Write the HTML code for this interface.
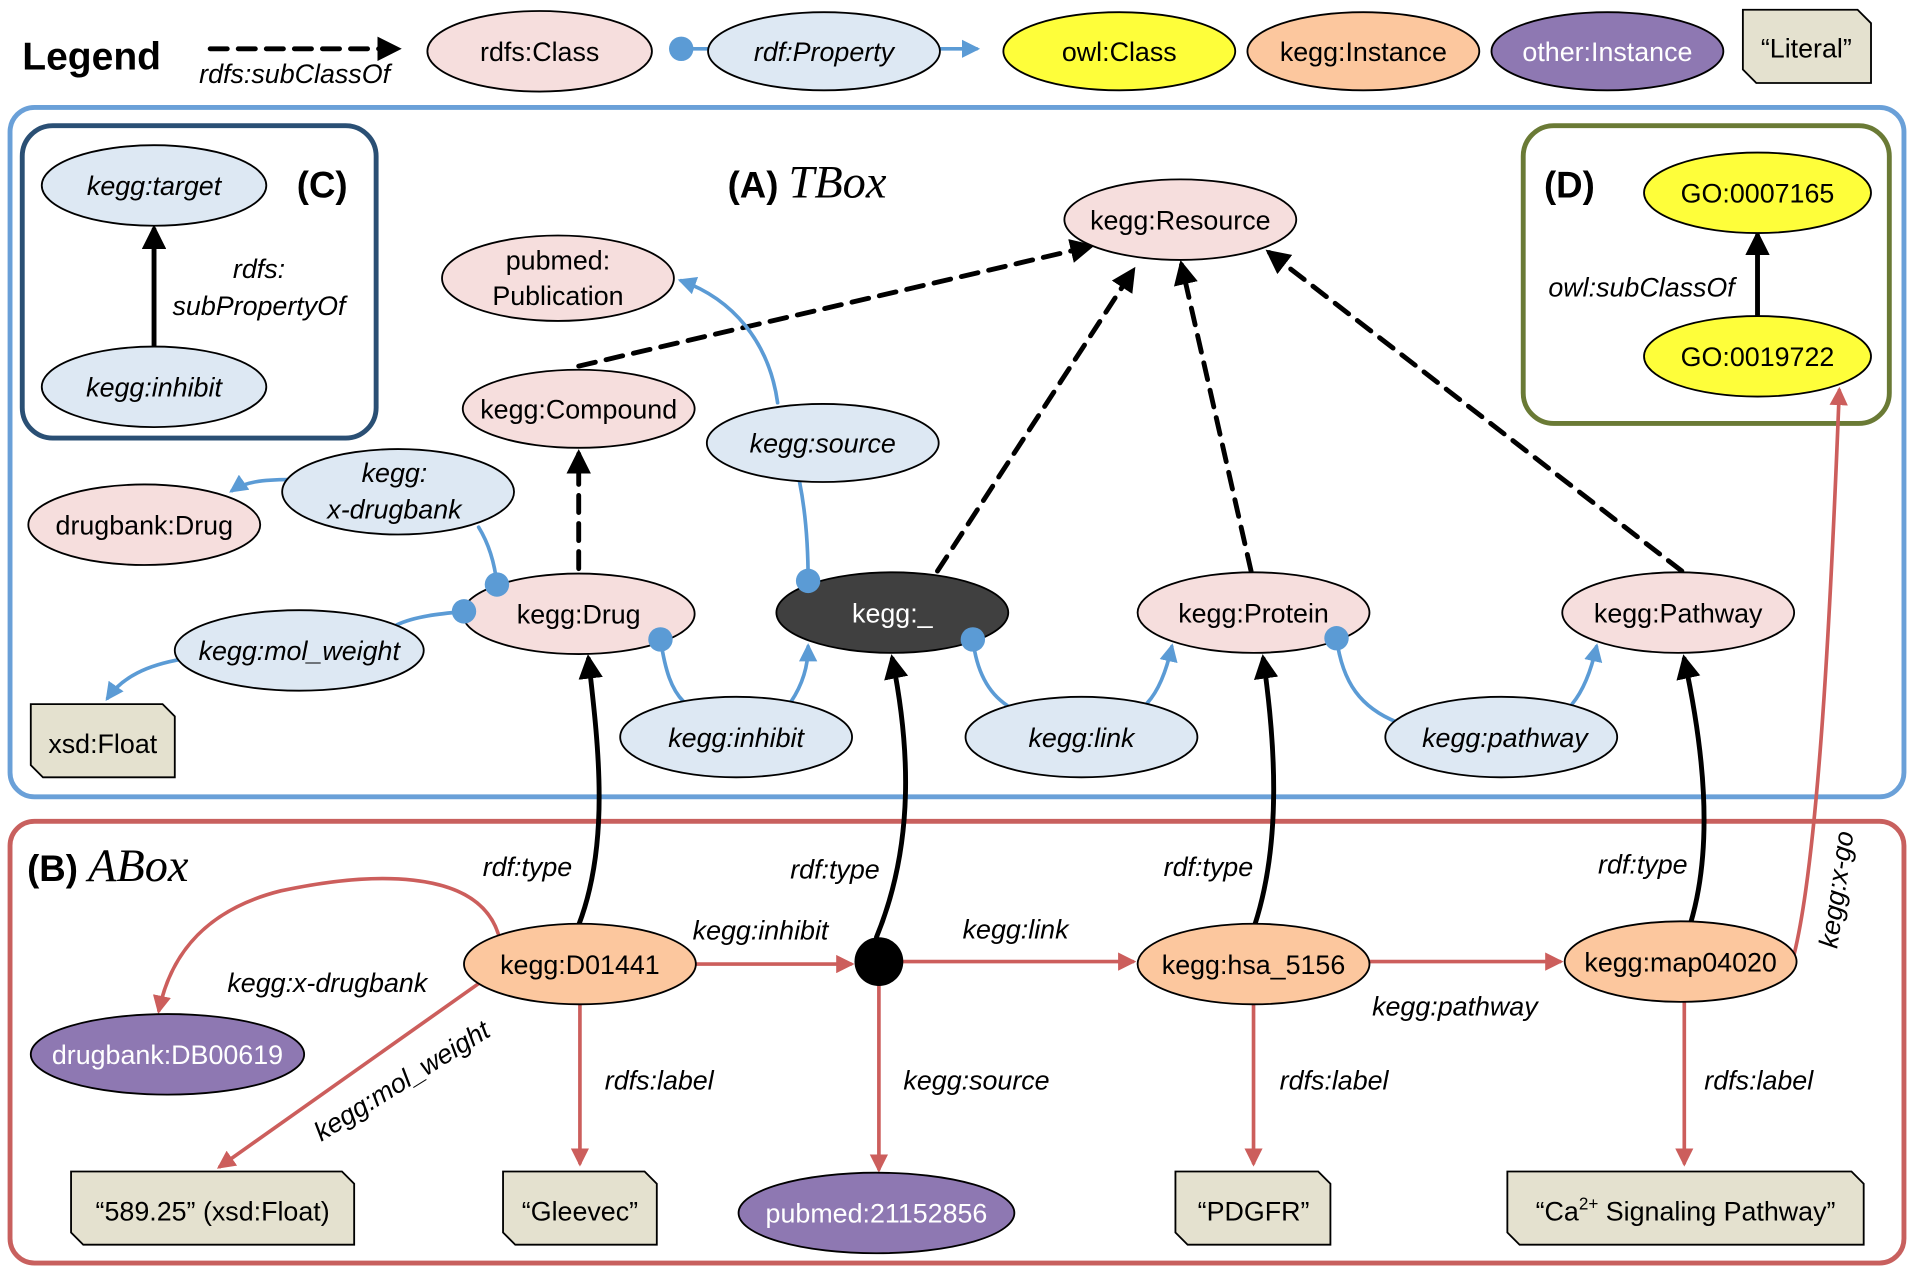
<!DOCTYPE html>
<html><head><meta charset="utf-8">
<style>
html,body{margin:0;padding:0;background:#fff;}
svg{display:block;}
text{font-family:"Liberation Sans","DejaVu Sans",sans-serif;font-size:22px;fill:#000;}
.it{font-style:italic;}
.b{font-weight:bold;}
.w{fill:#fff;}
</style></head><body>
<svg width="1914" height="1274" viewBox="0 0 1568 1044" xmlns="http://www.w3.org/2000/svg">
<defs>
<marker id="ak" viewBox="0 0 10 10" refX="8" refY="5" markerWidth="5" markerHeight="5" orient="auto"><path d="M0,0L10,5L0,10z" fill="#000"/></marker>
<marker id="ab" viewBox="0 0 10 10" refX="8" refY="5" markerWidth="5" markerHeight="5" orient="auto"><path d="M0,0L10,5L0,10z" fill="#5b9bd5"/></marker>
<marker id="ar" viewBox="0 0 10 10" refX="8" refY="5" markerWidth="5" markerHeight="5" orient="auto"><path d="M0,0L10,5L0,10z" fill="#cc5e5c"/></marker>
</defs>
<g stroke-linecap="round">
<rect x="8" y="88" width="1552" height="565" rx="20" fill="none" stroke="#6aa0d8" stroke-width="4"/>
<rect x="8" y="673" width="1552" height="362" rx="20" fill="none" stroke="#c8605e" stroke-width="4"/>
<rect x="18" y="103" width="290" height="256" rx="25" fill="none" stroke="#2a4f74" stroke-width="4"/>
<rect x="1248" y="103" width="300" height="244" rx="25" fill="none" stroke="#6a7a35" stroke-width="4"/>

<text x="18" y="57" class="b" style="font-size:32px">Legend</text>
<line x1="172" y1="40" x2="325" y2="40" stroke="#000" stroke-width="4" stroke-dasharray="14,9" marker-end="url(#ak)"/>
<text x="163" y="68" class="it">rdfs:subClassOf</text>
<line x1="558" y1="40" x2="582" y2="40" stroke="#5b9bd5" stroke-width="3"/>
<line x1="770" y1="40" x2="800" y2="40" stroke="#5b9bd5" stroke-width="3" marker-end="url(#ab)"/>
</g>

<g stroke="#000" stroke-width="1.5">
<ellipse cx="442" cy="42" rx="92" ry="33" fill="#f6dedd"/>
<ellipse cx="675" cy="42" rx="95" ry="32" fill="#dde8f3"/>
<ellipse cx="917" cy="42" rx="95" ry="32" fill="#fefe3a"/>
<ellipse cx="1117" cy="42" rx="95" ry="32" fill="#fcc79e"/>
<ellipse cx="1317" cy="42" rx="95" ry="32" fill="#8e78b2"/>
<path d="M1428,8H1522L1533,19V68H1439L1428,57Z" fill="#e4e1cf"/>
</g>
<circle cx="558" cy="40" r="10" fill="#5b9bd5"/>
<g text-anchor="middle">
<text x="442" y="50">rdfs:Class</text>
<text x="675" y="50" class="it">rdf:Property</text>
<text x="917" y="50">owl:Class</text>
<text x="1117" y="50">kegg:Instance</text>
<text x="1317" y="50" class="w">other:Instance</text>
<text x="1480" y="47">“Literal”</text>
</g>

<g fill="none" stroke-linecap="round">
<g stroke="#000" stroke-width="4" stroke-dasharray="14,9">
<line x1="474" y1="300" x2="893" y2="202" marker-end="url(#ak)"/>
<line x1="474" y1="466" x2="474" y2="372" marker-end="url(#ak)"/>
<line x1="768" y1="468" x2="928" y2="222" marker-end="url(#ak)"/>
<line x1="1025" y1="468" x2="968" y2="217" marker-end="url(#ak)"/>
<line x1="1378" y1="468" x2="1040" y2="207" marker-end="url(#ak)"/>
</g>
<g stroke="#000" stroke-width="4">
<line x1="126" y1="283" x2="126" y2="188" marker-end="url(#ak)"/>
<line x1="1440" y1="258" x2="1440" y2="193" marker-end="url(#ak)"/>
<path d="M474,758 C500,690 490,610 482,540" marker-end="url(#ak)"/>
<path d="M718,768 C750,690 745,610 731,540" marker-end="url(#ak)"/>
<path d="M1028,758 C1050,690 1045,610 1035,540" marker-end="url(#ak)"/>
<path d="M1385,757 C1405,690 1395,610 1380,540" marker-end="url(#ak)"/>
</g>
<g stroke="#5b9bd5" stroke-width="3">
<path d="M407,479 C405,460 400,445 392,432"/>
<path d="M237,393 C215,393 200,395 190,402" marker-end="url(#ab)"/>
<path d="M380,501 C360,503 340,505 325,512"/>
<path d="M150,540 C120,545 100,555 88,572" marker-end="url(#ab)"/>
<path d="M662,476 C662,450 660,420 655,395"/>
<path d="M637,330 C630,280 600,245 558,230" marker-end="url(#ab)"/>
<path d="M541,524 C545,550 550,565 560,575"/>
<path d="M648,575 C658,560 662,545 662,530" marker-end="url(#ab)"/>
<path d="M797,524 C800,550 810,568 825,578"/>
<path d="M940,576 C950,565 956,548 960,530" marker-end="url(#ab)"/>
<path d="M1095,523 C1100,560 1115,580 1145,592"/>
<path d="M1288,577 C1298,565 1304,548 1308,530" marker-end="url(#ab)"/>
</g>
<g stroke="#cc5e5c" stroke-width="3">
<line x1="570" y1="790" x2="697" y2="790" marker-end="url(#ar)"/>
<line x1="740" y1="788" x2="928" y2="788" marker-end="url(#ar)"/>
<line x1="1122" y1="788" x2="1278" y2="788" marker-end="url(#ar)"/>
<path d="M408,765 C390,710 300,715 230,730 C170,745 140,780 130,828" marker-end="url(#ar)"/>
<line x1="392" y1="806" x2="180" y2="956" marker-end="url(#ar)"/>
<line x1="475" y1="823" x2="475" y2="953" marker-end="url(#ar)"/>
<line x1="720" y1="808" x2="720" y2="958" marker-end="url(#ar)"/>
<line x1="1027" y1="823" x2="1027" y2="953" marker-end="url(#ar)"/>
<line x1="1380" y1="820" x2="1380" y2="953" marker-end="url(#ar)"/>
<path d="M1470,782 C1490,700 1500,500 1507,320" marker-end="url(#ar)"/>
</g>
</g>

<g stroke="#000" stroke-width="1.5">
<ellipse cx="126" cy="152" rx="92" ry="33" fill="#dde8f3"/>
<ellipse cx="126" cy="317" rx="92" ry="33" fill="#dde8f3"/>
<ellipse cx="967" cy="180" rx="95" ry="33" fill="#f6dedd"/>
<ellipse cx="457" cy="228" rx="95" ry="35" fill="#f6dedd"/>
<ellipse cx="474" cy="335" rx="95" ry="32" fill="#f6dedd"/>
<ellipse cx="674" cy="363" rx="95" ry="32" fill="#dde8f3"/>
<ellipse cx="118" cy="430" rx="95" ry="33" fill="#f6dedd"/>
<ellipse cx="326" cy="403" rx="95" ry="35" fill="#dde8f3"/>
<ellipse cx="474" cy="503" rx="95" ry="33" fill="#f6dedd"/>
<ellipse cx="731" cy="502" rx="95" ry="33" fill="#404040"/>
<ellipse cx="1027" cy="502" rx="95" ry="33" fill="#f6dedd"/>
<ellipse cx="1375" cy="502" rx="95" ry="33" fill="#f6dedd"/>
<ellipse cx="245" cy="533" rx="102" ry="33" fill="#dde8f3"/>
<path d="M25,577H133L143,587V637H35L25,627Z" fill="#e4e1cf"/>
<ellipse cx="603" cy="604" rx="95" ry="33" fill="#dde8f3"/>
<ellipse cx="886" cy="604" rx="95" ry="33" fill="#dde8f3"/>
<ellipse cx="1230" cy="604" rx="95" ry="33" fill="#dde8f3"/>
<ellipse cx="1440" cy="158" rx="93" ry="33" fill="#fefe3a"/>
<ellipse cx="1440" cy="292" rx="93" ry="33" fill="#fefe3a"/>
<ellipse cx="475" cy="790" rx="95" ry="33" fill="#fcc79e"/>
<ellipse cx="1027" cy="790" rx="95" ry="33" fill="#fcc79e"/>
<ellipse cx="1377" cy="788" rx="95" ry="33" fill="#fcc79e"/>
<ellipse cx="137" cy="864" rx="112" ry="33" fill="#8e78b2"/>
<ellipse cx="718" cy="994" rx="113" ry="33" fill="#8e78b2"/>
<path d="M58,960H280L290,970V1020H68L58,1010Z" fill="#e4e1cf"/>
<path d="M412,960H528L538,970V1020H422L412,1010Z" fill="#e4e1cf"/>
<path d="M963,960H1080L1090,970V1020H973L963,1010Z" fill="#e4e1cf"/>
<path d="M1235,960H1517L1527,970V1020H1245L1235,1010Z" fill="#e4e1cf"/>
</g>
<circle cx="720" cy="788" r="20" fill="#000"/>
<g fill="#5b9bd5">
<circle cx="407" cy="479" r="10"/><circle cx="380" cy="501" r="10"/><circle cx="662" cy="476" r="10"/>
<circle cx="541" cy="524" r="10"/><circle cx="797" cy="524" r="10"/><circle cx="1095" cy="523" r="10"/>
</g>

<g text-anchor="middle">
<text x="126" y="160" class="it">kegg:target</text>
<text x="126" y="325" class="it">kegg:inhibit</text>
<text x="967" y="188">kegg:Resource</text>
<text x="457" y="221">pubmed:</text>
<text x="457" y="250">Publication</text>
<text x="474" y="343">kegg:Compound</text>
<text x="674" y="371" class="it">kegg:source</text>
<text x="118" y="438">drugbank:Drug</text>
<text x="323" y="395" class="it">kegg:</text>
<text x="323" y="425" class="it">x-drugbank</text>
<text x="474" y="511">kegg:Drug</text>
<text x="731" y="510" class="w">kegg:_</text>
<text x="1027" y="510">kegg:Protein</text>
<text x="1375" y="510">kegg:Pathway</text>
<text x="245" y="541" class="it">kegg:mol_weight</text>
<text x="84" y="617">xsd:Float</text>
<text x="603" y="612" class="it">kegg:inhibit</text>
<text x="886" y="612" class="it">kegg:link</text>
<text x="1233" y="612" class="it">kegg:pathway</text>
<text x="1440" y="166">GO:0007165</text>
<text x="1440" y="300">GO:0019722</text>
<text x="475" y="798">kegg:D01441</text>
<text x="1027" y="798">kegg:hsa_5156</text>
<text x="1377" y="796">kegg:map04020</text>
<text x="137" y="872" class="w">drugbank:DB00619</text>
<text x="718" y="1002" class="w">pubmed:21152856</text>
<text x="174" y="1000">“589.25” (xsd:Float)</text>
<text x="475" y="1000">“Gleevec”</text>
<text x="1027" y="1000">“PDGFR”</text>
<text x="1381" y="1000">“Ca<tspan dy="-9" style="font-size:14px">2+</tspan><tspan dy="9"> Signaling Pathway”</tspan></text>

<text x="212" y="228" class="it">rdfs:</text>
<text x="212" y="258" class="it">subPropertyOf</text>
<text x="1345" y="243" class="it">owl:subClassOf</text>
<text x="432" y="718" class="it">rdf:type</text>
<text x="684" y="720" class="it">rdf:type</text>
<text x="990" y="718" class="it">rdf:type</text>
<text x="1346" y="716" class="it">rdf:type</text>
<text x="623" y="770" class="it">kegg:inhibit</text>
<text x="832" y="769" class="it">kegg:link</text>
<text x="1192" y="832" class="it">kegg:pathway</text>
<text x="268" y="813" class="it">kegg:x-drugbank</text>
<text x="540" y="893" class="it">rdfs:label</text>
<text x="800" y="893" class="it">kegg:source</text>
<text x="1093" y="893" class="it">rdfs:label</text>
<text x="1441" y="893" class="it">rdfs:label</text>
<text x="0" y="0" class="it" transform="translate(333,892) rotate(-32)">kegg:mol_weight</text>
<text x="0" y="0" class="it" transform="translate(1512,730) rotate(-82)">kegg:x-go</text>
</g>
<text x="243" y="162" class="b" style="font-size:30px">(C)</text>
<text x="1265" y="162" class="b" style="font-size:30px">(D)</text>
<text x="596" y="162" class="b" style="font-size:30px">(A) <tspan style="font-family:'Liberation Serif',serif;font-style:italic;font-weight:normal;font-size:38px">TBox</tspan></text>
<text x="22" y="722" class="b" style="font-size:30px">(B) <tspan style="font-family:'Liberation Serif',serif;font-style:italic;font-weight:normal;font-size:38px">ABox</tspan></text>
</svg>
</body></html>
